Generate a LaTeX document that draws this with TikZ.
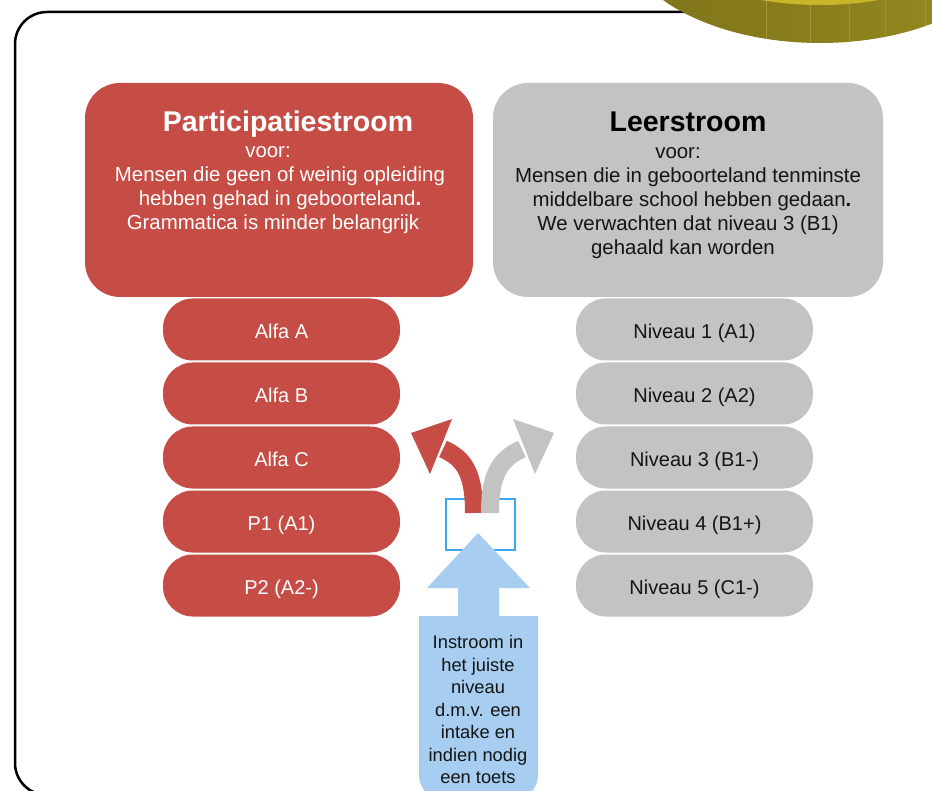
\documentclass[tikz,border=0pt]{standalone}
\usepackage{fontspec}
\setmainfont{Liberation Sans}
\definecolor{pred}{HTML}{C64D45}
\definecolor{pgray}{HTML}{C3C3C3}
\definecolor{bfill}{HTML}{A7CEF0}
\definecolor{bline}{HTML}{3DA8F0}
\definecolor{golddark}{HTML}{7E731A}
\definecolor{goldmid}{HTML}{978B20}
\definecolor{goldface}{HTML}{C8B52C}
\definecolor{goldridge}{HTML}{A0953A}
\begin{document}
\begin{tikzpicture}[x=1pt,y=-1pt,
  hdrbox/.style={rounded corners=35, minimum height=214, inner sep=0},
  listbox/.style={rounded corners=30, minimum width=237, minimum height=62, inner sep=0, text height=18, text depth=0, font=\fontsize{20}{24}\selectfont},
  redfill/.style={fill=pred, text=white},
  grayfill/.style={fill=pgray, text=black!92},
  titletxt/.style={font=\fontsize{28.5}{32}\selectfont\bfseries, inner sep=0},
  bodytxt/.style={font=\fontsize{20.4}{24}\selectfont, align=center, inner sep=0, anchor=north},
  bluetxt/.style={font=\fontsize{18.3}{22.5}\selectfont, align=center, inner sep=0, anchor=north, text=black!92}
]
\useasboundingbox (0,0) rectangle (932,791);
\fill[white] (0,0) rectangle (932,791);
% frame
\draw[line width=2.5, rounded corners=32] (15,795) -- (15,12) -- (990,12) -- (990,795) -- cycle;
% gold coin
\begin{scope}
  \clip (820,-70) ellipse [x radius=200, y radius=113];
  \shade[left color=golddark, right color=goldmid] (620,-190) rectangle (1020,50);
  \foreach \xx in {766,810,849,885,925} \draw[goldridge, line width=0.8] (\xx,0) -- (\xx,60);
  \fill[goldface] (820,-108) ellipse [x radius=200, y radius=113];
\end{scope}
% header boxes
\node[hdrbox, redfill, minimum width=388] (part) at (279,190) {};
\node[hdrbox, grayfill, minimum width=390] (leer) at (688,190) {};
\node[titletxt, text=white, anchor=base] (parttitle) at (288,132) {Participatiestroom};
\node[titletxt, text=black, anchor=base] (leertitle) at (688,132) {Leerstroom};
\node[bodytxt, text=white] (partbody) at (280,141) {\strut voor:\kern24pt\\Mensen die geen of weinig opleiding\\hebben gehad in geboorteland\textbf{.}\\Grammatica is minder belangrijk\kern14pt};
\node[bodytxt, text=black!92] (leerbody) at (688,142) {\strut voor:\kern20pt\\Mensen die in geboorteland tenminste\\\kern8pt middelbare school hebben gedaan\textbf{.}\\We verwachten dat niveau 3 (B1)\\gehaald kan worden\kern10pt};
% list boxes
\node[listbox, redfill] (alfaA) at (281.5,329.5) {Alfa A};
\node[listbox, redfill] (alfaB) at (281.5,393.5) {Alfa B};
\node[listbox, redfill] (alfaC) at (281.5,457.5) {Alfa C};
\node[listbox, redfill] (pone) at (281.5,521.5) {P1 (A1)};
\node[listbox, redfill] (ptwo) at (281.5,585.5) {P2 (A2-)};
\node[listbox, grayfill] (niv1) at (694.5,329.5) {Niveau 1 (A1)};
\node[listbox, grayfill] (niv2) at (694.5,393.5) {Niveau 2 (A2)};
\node[listbox, grayfill] (niv3) at (694.5,457.5) {Niveau 3 (B1-)};
\node[listbox, grayfill] (niv4) at (694.5,521.5) {Niveau 4 (B1+)};
\node[listbox, grayfill] (niv5) at (694.5,585.5) {Niveau 5 (C1-)};
% split box
\node[draw=bline, line width=1.5, minimum width=69, minimum height=51, inner sep=0] (split) at (480.5,524.5) {};
% blue up arrow
\fill[bfill] (419,616) -- (458,616) -- (458,588) -- (427,588) -- (478,533) -- (530,588) -- (499,588) -- (499,616) -- (538,616) {[rounded corners=25] -- (538,800) -- (419,800)} -- cycle;
\node[bluetxt] (instroom) at (478,633) {\strut Instroom in\\het juiste\\niveau\\d.m.v. een\\intake en\\indien nodig\\een toets};
% curved arrows
\coordinate (rs) at (474,513);
\coordinate (re) at (443,449);
\coordinate (gs) at (490,513);
\coordinate (ge) at (522,449);
\draw[pred, line width=18] (rs) .. controls (474,476) and (466,459) .. (re);
\fill[pred] (411,433) -- (452,419) -- (430,474) -- cycle;
\draw[pgray, line width=18] (gs) .. controls (490,476) and (499,459) .. (ge);
\fill[pgray] (554,433) -- (513,419) -- (535,474) -- cycle;
\end{tikzpicture}
\end{document}
